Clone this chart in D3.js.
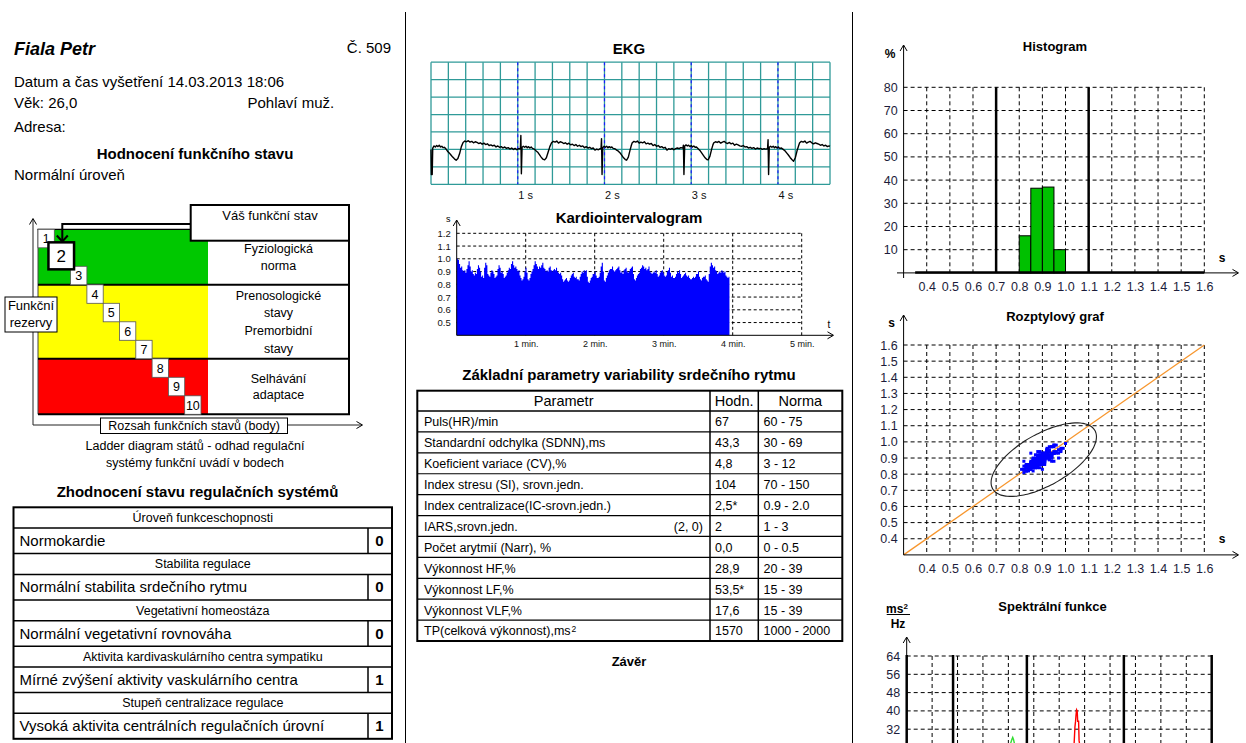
<!DOCTYPE html>
<html>
<head>
<meta charset="utf-8">
<script src="https://cdn.jsdelivr.net/npm/d3@7"></script>
<style>
  html, body { margin: 0; padding: 0; background: #fff; overflow: hidden; }
  svg { display: block; font-family: "Liberation Sans", Arial, sans-serif; }
</style>
</head>
<body>
<svg id="report" width="1246" height="743"></svg>
<script>
// ---------- patient header ----------
const patientName = "Fiala Petr";
const recordNo = "Č. 509";
const examDate = "Datum a čas vyšetření 14.03.2013 18:06";
const ageText = "Věk: 26,0";
const sexText = "Pohlaví muž.";
const addressText = "Adresa:";
const stateSummary = "Normální úroveň";

// ---------- ladder diagram ----------
const ladderSteps = [1, 2, 3, 4, 5, 6, 7, 8, 9, 10];
const currentStep = 2;
const zoneRanges = [[1, 3], [4, 7], [8, 10]];
const zoneLabels = [
  ["Fyziologická", "norma"],
  ["Prenosologické", "stavy", "Premorbidní", "stavy"],
  ["Selhávání", "adaptace"]
];

// ---------- regulation summary ----------
const regSections = ["Úroveň funkceschopnosti", "Stabilita regulace", "Vegetativní homeostáza",
  "Aktivita kardivaskulárního centra sympatiku", "Stupeň centralizace regulace"];
const regResults = ["Normokardie", "Normální stabilita srdečního rytmu", "Normální vegetativní rovnováha",
  "Mírné zvýšení aktivity vaskulárního centra", "Vysoká aktivita centrálních regulačních úrovní"];
const regScores = [0, 0, 0, 1, 1];

// ---------- HRV parameters ----------
const paramNames = ["Puls(HR)/min", "Standardní odchylka (SDNN),ms", "Koeficient variace (CV),%",
  "Index stresu (SI), srovn.jedn.", "Index centralizace(IC-srovn.jedn.)", "IARS,srovn.jedn.",
  "Počet arytmií (Narr), %", "Výkonnost HF,%", "Výkonnost LF,%", "Výkonnost VLF,%", "TP(celková výkonnost),ms"];
const paramNotes = ["", "", "", "", "", "(2, 0)", "", "", "", "", ""];
const paramValues = ["67", "43,3", "4,8", "104", "2,5*", "2", "0,0", "28,9", "53,5*", "17,6", "1570"];
const paramNorms = ["60 - 75", "30 - 69", "3 - 12", "70 - 150", "0.9 - 2.0", "1 - 3", "0 - 0.5",
  "20 - 39", "15 - 39", "15 - 39", "1000 - 2000"];

// ---------- ECG strip: [time s, mV] ----------
const ekgTrace = [
  // beat 1
  [0.000,0.00],[0.004,-0.72],[0.014,-0.72],[0.020,0.04],[0.035,0.10],[0.050,0.07],[0.065,0.11],[0.080,0.08],
  [0.095,0.12],[0.110,0.07],[0.125,0.09],[0.140,0.05],[0.155,0.06],[0.170,0.02],[0.190,-0.05],[0.210,-0.10],
  [0.230,-0.16],[0.250,-0.22],[0.270,-0.27],[0.290,-0.31],[0.310,-0.26],[0.330,-0.12],[0.350,0.08],
  [0.37,0.20],[0.39,0.24],[0.41,0.22],[0.43,0.25],[0.45,0.21],[0.47,0.23],[0.49,0.19],[0.51,0.22],[0.53,0.20],
  [0.55,0.17],[0.57,0.19],[0.59,0.15],[0.61,0.18],[0.63,0.14],[0.65,0.16],[0.67,0.11],[0.69,0.13],[0.71,0.10],
  [0.73,0.12],[0.75,0.07],[0.77,0.10],[0.79,0.06],[0.81,0.08],[0.83,0.04],[0.85,0.07],[0.87,0.03],[0.89,0.05],
  [0.91,0.01],[0.93,0.04],[0.95,0.00],[0.97,0.03],[0.99,-0.01],[1.01,0.02],
  // beat 2
  [1.030,0.02],[1.036,0.40],[1.042,-0.70],[1.050,0.06],[1.065,0.09],[1.080,0.06],[1.095,0.09],[1.110,0.05],
  [1.125,0.08],[1.140,0.04],[1.155,0.07],[1.170,0.03],[1.190,0.01],[1.210,-0.04],[1.230,-0.08],[1.250,-0.15],
  [1.270,-0.22],[1.290,-0.28],[1.310,-0.30],[1.330,-0.24],[1.350,-0.08],[1.370,0.08],
  [1.39,0.19],[1.41,0.23],[1.43,0.21],[1.45,0.24],[1.47,0.18],[1.49,0.22],[1.51,0.20],[1.53,0.17],[1.55,0.19],
  [1.57,0.15],[1.59,0.18],[1.61,0.13],[1.63,0.15],[1.65,0.11],[1.67,0.14],[1.69,0.09],[1.71,0.12],[1.73,0.08],
  [1.75,0.10],[1.77,0.05],[1.79,0.08],[1.81,0.04],[1.83,0.06],[1.85,0.02],[1.87,0.04],[1.89,-0.02],[1.91,0.01],
  [1.93,-0.01],[1.95,0.02],
  // beat 3
  [1.960,0.02],[1.966,0.31],[1.972,-0.72],[1.980,0.05],[1.995,0.09],[2.010,0.06],[2.025,0.09],[2.040,0.05],
  [2.055,0.08],[2.070,0.05],[2.085,0.07],[2.100,0.03],[2.120,0.02],[2.140,-0.02],[2.160,-0.05],[2.180,-0.10],
  [2.200,-0.17],[2.220,-0.24],[2.240,-0.29],[2.255,-0.31],[2.275,-0.22],[2.295,-0.02],[2.310,0.12],
  [2.32,0.19],[2.34,0.23],[2.36,0.21],[2.38,0.24],[2.40,0.18],[2.42,0.21],[2.44,0.19],[2.46,0.22],[2.48,0.16],
  [2.50,0.18],[2.52,0.15],[2.54,0.17],[2.56,0.11],[2.58,0.14],[2.60,0.09],[2.62,0.11],[2.64,0.06],[2.66,0.08],
  [2.68,0.04],[2.70,0.06],[2.72,-0.02],[2.74,0.02],[2.76,0.00],[2.78,0.03],[2.80,-0.01],[2.82,0.02],[2.84,0.04],
  [2.86,0.02],[2.88,0.05],[2.90,0.04],
  // beat 4
  [2.905,0.05],[2.910,0.12],[2.916,-0.72],[2.925,0.10],[2.940,0.13],[2.955,0.10],[2.970,0.12],[2.985,0.08],
  [3.000,0.11],[3.015,0.07],[3.030,0.10],[3.045,0.06],[3.060,0.07],[3.080,0.02],[3.100,-0.03],[3.120,-0.10],
  [3.140,-0.17],[3.160,-0.24],[3.180,-0.29],[3.195,-0.30],[3.215,-0.20],[3.235,0.00],[3.250,0.13],
  [3.26,0.19],[3.28,0.22],[3.30,0.20],[3.32,0.23],[3.34,0.18],[3.36,0.21],[3.38,0.23],[3.40,0.19],[3.42,0.17],
  [3.44,0.20],[3.46,0.16],[3.48,0.18],[3.50,0.12],[3.52,0.15],[3.54,0.13],[3.56,0.10],[3.58,0.09],[3.60,0.11],
  [3.62,0.07],[3.64,0.08],[3.66,0.04],[3.68,0.06],[3.70,0.03],[3.72,0.05],[3.74,0.01],[3.76,0.04],[3.78,0.02],
  [3.80,0.03],[3.82,0.00],[3.84,0.02],[3.86,0.01],[3.875,0.02],
  // beat 5
  [3.880,0.02],[3.886,0.28],[3.892,-0.72],[3.900,0.06],[3.915,0.09],[3.930,0.06],[3.945,0.09],[3.960,0.05],
  [3.975,0.08],[3.990,0.04],[4.005,0.07],[4.020,0.03],[4.040,0.04],[4.060,0.00],[4.080,-0.04],[4.100,-0.10],
  [4.120,-0.16],[4.140,-0.23],[4.160,-0.29],[4.180,-0.34],[4.200,-0.24],[4.220,-0.04],[4.240,0.12],
  [4.25,0.19],[4.27,0.23],[4.29,0.21],[4.31,0.24],[4.33,0.18],[4.35,0.21],[4.37,0.23],[4.39,0.19],[4.41,0.16],
  [4.43,0.19],[4.45,0.17],[4.47,0.15],[4.49,0.12],[4.51,0.14],[4.53,0.10],[4.55,0.12],[4.57,0.08],[4.59,0.10],
  [4.60,0.09]
];
const ekgSecondMarks = [1, 2, 3, 4];

// ---------- RR intervals (s), beat by beat ----------
const rrIntervals = [
  1.00,0.99,0.96, 0.93,0.94,0.91, 0.90,0.91,0.89,0.92, 0.95,0.98,0.94, 0.90,0.91,0.88, 0.87,0.89,0.88,
  0.92,0.95,0.93,0.90, 0.86,0.87,0.85, 0.93,0.97,0.95, 0.88,0.87,0.86, 0.89,0.91,0.90,0.88, 0.85,0.86,0.87,
  0.92,0.95,0.93, 0.89,0.90,0.88, 0.85,0.86,0.87,0.89, 0.91,0.93,0.92, 0.96,0.98,0.95, 0.93,0.94,0.92,
  0.90,0.91,0.87,0.85, 0.83,0.84,0.86, 0.90,0.93,0.89, 0.84,0.83,0.85, 0.88,0.90,0.92,0.95, 0.98,0.96,0.94,
  0.92,0.94,0.93, 0.95,0.97,0.93,0.92, 0.90,0.91,0.90, 0.93,0.94,0.91, 0.90,0.91,0.92, 0.91,0.93,0.90,0.89,
  0.88,0.89,0.87, 0.84,0.82,0.83, 0.84,0.85,0.83, 0.82,0.83,0.85,0.87, 0.88,0.89,0.86, 0.85,0.86,0.84,
  0.84,0.83,0.86, 0.88,0.90,0.89,0.91, 0.90,0.91,0.86, 0.82,0.81,0.83, 0.85,0.86,0.88, 0.88,0.90,0.87,0.85,
  0.85,0.86,0.89, 0.94,0.97,0.90, 0.83,0.82,0.85, 0.87,0.89,0.91,0.92, 0.92,0.94,0.91, 0.90,0.91,0.92,
  0.93,0.94,0.91, 0.89,0.90,0.88,0.91, 0.92,0.93,0.90, 0.89,0.90,0.92, 0.93,0.94,0.88, 0.84,0.83,0.85,0.87,
  0.88,0.89,0.92, 0.93,0.95,0.94, 0.92,0.93,0.91, 0.92,0.94,0.90,0.89, 0.88,0.89,0.90, 0.89,0.91,0.88,
  0.86,0.87,0.89, 0.90,0.91,0.89,0.87, 0.86,0.87,0.90, 0.91,0.93,0.89, 0.86,0.87,0.85, 0.85,0.86,0.88,0.90,
  0.89,0.91,0.88, 0.85,0.86,0.87, 0.88,0.89,0.87, 0.86,0.87,0.85,0.84, 0.84,0.85,0.86, 0.85,0.86,0.88,
  0.88,0.90,0.86, 0.84,0.83,0.85,0.86, 0.86,0.87,0.84, 0.83,0.82,0.88, 0.94,0.97,0.95, 0.93,0.94,0.91,0.90,
  0.88,0.89,0.90, 0.89,0.91,0.90, 0.89,0.90,0.87, 0.86,0.85,0.86
];

// ---------- histogram of RR intervals ----------
const histBinStarts = [0.80, 0.85, 0.90, 0.95];
const histPercent = [16, 36.5, 37, 10];
const histBinWidth = 0.05;
const histLimits = [0.7, 1.1];

// ---------- scatter ellipse (centre, semi-axes along / across identity) ----------
const ellipseCentre = [0.906, 0.89];
const ellipseAxes = [0.29, 0.14];

// ---------- spectral function ----------
const specBandEdges = [0, 0.076, 0.197, 0.356, 0.5];
const specBands = [
  [[0.000,4],[0.010,9],[0.020,14],[0.030,17],[0.040,19],[0.050,16],[0.060,12],[0.070,9],[0.076,8]],
  [[0.076,8],[0.090,10],[0.110,12],[0.130,14],[0.150,17],[0.160,20],[0.166,23],[0.170,25.5],[0.1725,27.6],
   [0.1738,28.4],[0.1752,27.4],[0.178,24],[0.184,19],[0.197,13]],
  [[0.197,13],[0.215,11],[0.235,12],[0.250,15],[0.262,19],[0.270,23],[0.2745,26],[0.2758,33],[0.2768,35.4],
   [0.2775,38],[0.2785,40.5],[0.2795,40],[0.2803,35.5],[0.2818,35.5],[0.2826,27],[0.286,21],[0.295,15],
   [0.310,10],[0.330,7],[0.356,5]],
  [[0.356,5],[0.400,3],[0.450,2],[0.500,1]]
];
const specTicks = [32, 40, 48, 56, 64];

// =====================================================================
const FONT = '"Liberation Sans", Arial, sans-serif';
const svg = d3.select("#report");
const root = svg.append("g");

function txt(g, x, y, s, o = {}) {
  return g.append("text")
    .attr("x", x).attr("y", y).attr("dy", "0.35em")
    .attr("font-size", o.size || 15)
    .attr("font-weight", o.bold ? "bold" : null)
    .attr("font-style", o.italic ? "italic" : null)
    .attr("text-anchor", o.anchor || "start")
    .attr("fill", o.fill || "#000")
    .text(s);
}
function line(g, x1, y1, x2, y2, o = {}) {
  return g.append("line").attr("x1", x1).attr("y1", y1).attr("x2", x2).attr("y2", y2)
    .attr("stroke", o.stroke || "#000").attr("stroke-width", o.w || 1)
    .attr("stroke-dasharray", o.dash || null);
}
function arrowUp(g, x, y, w = 1) {
  g.append("polyline").attr("points", `${x - 3.5},${y + 6} ${x},${y} ${x + 3.5},${y + 6}`)
    .attr("fill", "none").attr("stroke", "#000").attr("stroke-width", w);
}
function arrowRight(g, x, y, w = 1) {
  g.append("polyline").attr("points", `${x - 6},${y - 3.5} ${x},${y} ${x - 6},${y + 3.5}`)
    .attr("fill", "none").attr("stroke", "#000").attr("stroke-width", w);
}
function styleAxis(sel, size, color) {
  sel.attr("font-family", FONT).attr("font-size", size);
  sel.select(".domain").remove();
  sel.selectAll(".tick line").remove();
  sel.selectAll(".tick text").attr("fill", color);
}

// column separators
line(root, 405.5, 12, 405.5, 743);
line(root, 852.5, 12, 852.5, 743);

// ===================== LEFT COLUMN =====================
const left = root.append("g");
txt(left, 14, 49, patientName, { size: 18, bold: true, italic: true });
txt(left, 391, 48, recordNo, { size: 15, anchor: "end" });
txt(left, 14, 82, examDate, { size: 15 });
txt(left, 14, 102.5, ageText, { size: 15 });
txt(left, 247.5, 102.5, sexText, { size: 15 });
txt(left, 14, 126.5, addressText, { size: 15 });
txt(left, 195, 153.3, "Hodnocení funkčního stavu", { size: 15, bold: true, anchor: "middle" });
txt(left, 14, 174.3, stateSummary, { size: 15 });

// ladder diagram
const lad = left.append("g");
const lx = d3.scaleLinear().domain([1, 11]).range([38, 201]);
const ly = d3.scaleLinear().domain([1, 11]).range([229.3, 414.3]);
const zoneColors = ["#00c800", "#ffff00", "#ff0000"];
const ladRight = 349, colorRight = 208;

line(lad, 33, 425, 33, 219, { stroke: "#222" });
arrowUp(lad, 33, 218.5);
line(lad, 33, 425, 362, 425, { stroke: "#222" });
arrowRight(lad, 362.5, 425);

zoneRanges.forEach((z, i) => {
  lad.append("rect").attr("x", lx(1)).attr("y", ly(z[0]))
    .attr("width", colorRight - lx(1)).attr("height", ly(z[1] + 1) - ly(z[0]))
    .attr("fill", zoneColors[i]);
  lad.append("rect").attr("x", colorRight).attr("y", ly(z[0]))
    .attr("width", ladRight - colorRight).attr("height", ly(z[1] + 1) - ly(z[0]))
    .attr("fill", "#fff");
  const labels = zoneLabels[i];
  const cy = (ly(z[0]) + ly(z[1] + 1)) / 2;
  const gap = labels.length > 2 ? 17.6 : 16.8;
  labels.forEach((s, j) => txt(lad, (colorRight + ladRight) / 2, cy + (j - (labels.length - 1) / 2) * gap, s,
    { size: 12.5, anchor: "middle" }));
});
line(lad, lx(1) - 0.5, ly(1), 191, ly(1), { w: 1.2 });
line(lad, lx(1), ly(1), lx(1), ly(11), { stroke: "#444", w: 1 });
[4, 8].forEach(k => line(lad, lx(1), ly(k), ladRight + 1, ly(k), { w: 2 }));
line(lad, lx(1), ly(11), ladRight + 1, ly(11), { w: 2 });
line(lad, ladRight, 240.7, ladRight, ly(11), { w: 2 });

ladderSteps.forEach(k => {
  if (k === currentStep) return;
  lad.append("rect").attr("x", lx(k)).attr("y", ly(k))
    .attr("width", lx(k + 1) - lx(k)).attr("height", ly(k + 1) - ly(k))
    .attr("fill", "#fff").attr("stroke", "#555").attr("stroke-width", 0.8);
  txt(lad, (lx(k) + lx(k + 1)) / 2, (ly(k) + ly(k + 1)) / 2 + 0.5, String(k),
    { size: k === 1 ? 12 : 12.5, anchor: "middle" });
});
{
  const cx = (lx(currentStep) + lx(currentStep + 1)) / 2 - 1.2;
  const cy = (ly(currentStep) + ly(currentStep + 1)) / 2 - 1.2;
  lad.append("rect").attr("x", cx - 12.8).attr("y", cy - 13.5).attr("width", 25.6).attr("height", 27)
    .attr("fill", "#fff").attr("stroke", "#000").attr("stroke-width", 2.5);
  txt(lad, cx, cy + 0.5, String(currentStep), { size: 17, anchor: "middle" });
}

lad.append("rect").attr("x", 190.7).attr("y", 205).attr("width", 158.3).attr("height", 35.7)
  .attr("fill", "#fff").attr("stroke", "#000").attr("stroke-width", 2);
txt(lad, 270, 215.5, "Váš funkční stav", { size: 13, anchor: "middle" });
lad.append("path").attr("d", `M190.7,224 H62.3 V241`).attr("fill", "none")
  .attr("stroke", "#000").attr("stroke-width", 2);
lad.append("polyline").attr("points", "56.8,235.5 62.3,241.5 67.8,235.5")
  .attr("fill", "none").attr("stroke", "#000").attr("stroke-width", 2);

lad.append("rect").attr("x", 5).attr("y", 297).attr("width", 52).attr("height", 35)
  .attr("fill", "#fff").attr("stroke", "#000").attr("stroke-width", 1);
txt(lad, 31, 305.5, "Funkční", { size: 13, anchor: "middle" });
txt(lad, 31, 322.5, "rezervy", { size: 13, anchor: "middle" });
lad.append("rect").attr("x", 100.5).attr("y", 418).attr("width", 187).attr("height", 15.5)
  .attr("fill", "#fff").attr("stroke", "#000").attr("stroke-width", 1);
txt(lad, 194, 425.8, "Rozsah funkčních stavů (body)", { size: 12.5, anchor: "middle" });
txt(lad, 195, 446, "Ladder diagram států - odhad regulační", { size: 12.5, anchor: "middle" });
txt(lad, 195, 462.5, "systémy funkční uvádí v bodech", { size: 12.5, anchor: "middle" });

// regulation summary table
txt(left, 197.5, 491.5, "Zhodnocení stavu regulačních systémů", { size: 15, bold: true, anchor: "middle" });
const reg = left.append("g");
const regTop = 507.3, regHdrH = 20.8, regValH = 25.5, regL = 13.5, regR = 392, regScoreX = 368;
regSections.forEach((sec, i) => {
  const y0 = regTop + i * (regHdrH + regValH);
  txt(reg, (regL + regR) / 2, y0 + regHdrH / 2, sec, { size: 12.5, anchor: "middle" });
  line(reg, regL, y0 + regHdrH, regR, y0 + regHdrH, { w: 1.5 });
  txt(reg, 19.5, y0 + regHdrH + regValH / 2, regResults[i], { size: 15 });
  txt(reg, 379.5, y0 + regHdrH + regValH / 2, String(regScores[i]), { size: 15, bold: true, anchor: "middle" });
  line(reg, regScoreX, y0 + regHdrH, regScoreX, y0 + regHdrH + regValH, { w: 1.5 });
  if (i < regSections.length - 1) line(reg, regL, y0 + regHdrH + regValH, regR, y0 + regHdrH + regValH, { w: 1.5 });
});
reg.append("rect").attr("x", regL).attr("y", regTop).attr("width", regR - regL)
  .attr("height", regSections.length * (regHdrH + regValH))
  .attr("fill", "none").attr("stroke", "#000").attr("stroke-width", 2);

// ===================== MIDDLE COLUMN =====================
const mid = root.append("g");

// ECG
txt(mid, 629, 48.3, "EKG", { size: 15, bold: true, anchor: "middle" });
const ekgX = d3.scaleLinear().domain([0, 4.6]).range([431, 830]);
const ekgY = d3.scaleLinear().domain([-1, 2.5]).range([184.3, 62.2]);
const ekgGrid = mid.append("g");
d3.range(0, 24).forEach(i => {
  const x = ekgX(i * 0.2);
  line(ekgGrid, x, ekgY(2.5), x, ekgY(-1), { stroke: "#2f9a98", w: 1.3 });
});
d3.range(0, 8).forEach(i => {
  const y = ekgY(-1 + i * 0.5);
  line(ekgGrid, ekgX(0), y, ekgX(4.6), y, { stroke: "#2f9a98", w: 1.3 });
});
ekgSecondMarks.forEach(s => line(ekgGrid, ekgX(s), ekgY(2.5), ekgX(s), ekgY(-1), { stroke: "#1a1aff", w: 1.2, dash: "3,3" }));
mid.append("path").datum(ekgTrace)
  .attr("d", d3.line().x(d => ekgX(d[0])).y(d => ekgY(d[1])))
  .attr("fill", "none").attr("stroke", "#000").attr("stroke-width", 1.4).attr("stroke-linejoin", "round");
const ekgAxis = mid.append("g").attr("transform", `translate(0,${ekgY(-1)})`)
  .call(d3.axisBottom(ekgX).tickValues(ekgSecondMarks).tickFormat(d => d + " s").tickSize(0).tickPadding(7));
styleAxis(ekgAxis, 11, "#111");
ekgAxis.selectAll(".tick text").attr("text-anchor", "start").attr("x", 0);

// cardio-intervalogram
txt(mid, 629, 218, "Kardiointervalogram", { size: 15, bold: true, anchor: "middle" });
const kiX = d3.scaleLinear().domain([0, 5]).range([456.7, 801.7]);
const kiY = d3.scaleLinear().domain([0.4, 1.2]).range([335.3, 233.3]);
const ki = mid.append("g");
d3.range(5, 13).forEach(v => line(ki, kiX(0), kiY(v / 10), kiX(5), kiY(v / 10), { dash: "3,2.5" }));
d3.range(1, 6).forEach(m => line(ki, kiX(m), kiY(1.2), kiX(m), kiY(0.4), { dash: "3,2.5" }));
const beatStarts = [];
rrIntervals.reduce((acc, rr) => { beatStarts.push(acc); return acc + rr; }, 0);
const totalSec = d3.sum(rrIntervals);
const kiPoints = rrIntervals.map((rr, i) => [beatStarts[i] / 60, rr]);
kiPoints.push([totalSec / 60, rrIntervals[rrIntervals.length - 1]]);
ki.append("path").datum(kiPoints)
  .attr("d", d3.area().curve(d3.curveStepAfter).x(d => kiX(d[0])).y0(kiY(0.4)).y1(d => kiY(d[1])))
  .attr("fill", "#0000ff");
line(ki, kiX(0), kiY(0.4), kiX(0), 220.5);
arrowUp(ki, kiX(0), 220);
line(ki, kiX(0), kiY(0.4), 833, kiY(0.4));
arrowRight(ki, 833.5, kiY(0.4));
txt(ki, 446, 218.5, "s", { size: 9 });
txt(ki, 827.5, 324, "t", { size: 10 });
const kiYAxis = ki.append("g").attr("transform", `translate(${kiX(0)},0)`)
  .call(d3.axisLeft(kiY).tickValues(d3.range(5, 13).map(v => v / 10)).tickFormat(d3.format(".1f")).tickSize(0).tickPadding(6));
styleAxis(kiYAxis, 9.5, "#111");
const kiXAxis = ki.append("g").attr("transform", `translate(0,${kiY(0.4)})`)
  .call(d3.axisBottom(kiX).tickValues([1, 2, 3, 4, 5]).tickFormat(d => d + " min.").tickSize(0).tickPadding(5));
styleAxis(kiXAxis, 9, "#111");

// parameter table
txt(mid, 629, 375, "Základní parametry variability srdečního rytmu", { size: 15, bold: true, anchor: "middle" });
const tb = mid.append("g");
const tL = 417.3, tR = 842.3, tTop = 390.7, tHdr = 20.3, tRow = 20.91, c1 = 710, c2 = 758.3;
const tBottom = tTop + tHdr + paramNames.length * tRow;
txt(tb, (tL + c1) / 2, tTop + tHdr / 2 + 0.5, "Parametr", { size: 14.5, anchor: "middle" });
txt(tb, (c1 + c2) / 2, tTop + tHdr / 2 + 0.5, "Hodn.", { size: 14.5, anchor: "middle" });
txt(tb, (c2 + tR) / 2, tTop + tHdr / 2 + 0.5, "Norma", { size: 14.5, anchor: "middle" });
line(tb, tL, tTop + tHdr, tR, tTop + tHdr, { w: 1.5 });
paramNames.forEach((name, i) => {
  const cy = tTop + tHdr + i * tRow + tRow / 2 + 0.5;
  const t = txt(tb, 424, cy, name, { size: 12.5 });
  if (i === paramNames.length - 1) {
    t.append("tspan").attr("font-size", 8.5).attr("dy", "-0.45em").attr("dx", 1).text("2");
  }
  if (paramNotes[i]) txt(tb, 703, cy, paramNotes[i], { size: 12.5, anchor: "end" });
  txt(tb, 715, cy, paramValues[i], { size: 12.5 });
  txt(tb, 763.5, cy, paramNorms[i], { size: 12.5 });
  if (i > 0) line(tb, tL, tTop + tHdr + i * tRow, tR, tTop + tHdr + i * tRow, { w: 1.2 });
});
line(tb, c1, tTop, c1, tBottom, { w: 1.5 });
line(tb, c2, tTop, c2, tBottom, { w: 1.5 });
tb.append("rect").attr("x", tL).attr("y", tTop).attr("width", tR - tL).attr("height", tBottom - tTop)
  .attr("fill", "none").attr("stroke", "#000").attr("stroke-width", 2);
txt(mid, 629, 661.7, "Závěr", { size: 13, bold: true, anchor: "middle" });

// ===================== RIGHT COLUMN =====================
const right = root.append("g");
const tickColor = "#1c1c3a";
const dash = "4,3";

// histogram
txt(right, 1055, 46.7, "Histogram", { size: 13, bold: true, anchor: "middle" });
const hX = d3.scaleLinear().domain([0.3, 1.6]).range([903.6, 1204.3]);
const hY = d3.scaleLinear().domain([0, 80]).range([272.9, 87.3]);
const hg = right.append("g");
const sTicks = d3.range(4, 17).map(v => v / 10);
d3.range(1, 9).forEach(v => line(hg, hX(0.3), hY(v * 10), hX(1.6), hY(v * 10), { dash }));
sTicks.forEach(v => line(hg, hX(v), hY(80), hX(v), hY(0), { dash }));
histLimits.forEach(v => line(hg, hX(v), hY(80), hX(v), hY(0), { w: 2.5 }));
hg.selectAll("rect.bin").data(histBinStarts).join("rect").attr("class", "bin")
  .attr("x", d => hX(d)).attr("width", d => hX(d + histBinWidth) - hX(d))
  .attr("y", (d, i) => hY(histPercent[i])).attr("height", (d, i) => hY(0) - hY(histPercent[i]))
  .attr("fill", "#00c000").attr("stroke", "#000").attr("stroke-width", 1);
line(hg, hX(0.35), hY(0) - 0.5, hX(1.6), hY(0) - 0.5, { w: 2.5 });
line(hg, hX(0.3), 278, hX(0.3), 45.5);
arrowUp(hg, hX(0.3), 45);
line(hg, 897, hY(0), 1238, hY(0));
arrowRight(hg, 1238.5, hY(0));
txt(hg, 890, 54, "%", { size: 12, bold: true, anchor: "middle" });
txt(hg, 1222, 258, "s", { size: 12, bold: true, anchor: "middle" });
const hYAxis = hg.append("g").attr("transform", `translate(${hX(0.3)},0)`)
  .call(d3.axisLeft(hY).tickValues(d3.range(1, 9).map(v => v * 10)).tickSize(0).tickPadding(6));
styleAxis(hYAxis, 12.5, tickColor);
const hXAxis = hg.append("g").attr("transform", `translate(0,${hY(0)})`)
  .call(d3.axisBottom(hX).tickValues(sTicks).tickFormat(d3.format(".1f")).tickSize(0).tickPadding(9.5));
styleAxis(hXAxis, 12.5, tickColor);

// Poincaré scatter
txt(right, 1055, 316, "Rozptylový graf", { size: 13, bold: true, anchor: "middle" });
const sX = d3.scaleLinear().domain([0.3, 1.6]).range([903.6, 1204.3]);
const sY = d3.scaleLinear().domain([0.3, 1.6]).range([554.9, 345]);
const sg = right.append("g");
sTicks.forEach(v => line(sg, sX(0.3), sY(v), sX(1.6), sY(v), { dash }));
sTicks.forEach(v => line(sg, sX(v), sY(1.6), sX(v), sY(0.3), { dash }));
line(sg, sX(0.3), sY(0.3), sX(1.6), sY(1.6), { stroke: "#f7962d", w: 1.3 });
const ellipsePts = d3.range(0, 361, 4).map(deg => {
  const a = deg * Math.PI / 180;
  const u = ellipseAxes[0] * Math.cos(a), w = ellipseAxes[1] * Math.sin(a);
  return [ellipseCentre[0] + (u - w) / Math.SQRT2, ellipseCentre[1] + (u + w) / Math.SQRT2];
});
sg.append("path").datum(ellipsePts)
  .attr("d", d3.line().curve(d3.curveCardinalClosed).x(d => sX(d[0])).y(d => sY(d[1])))
  .attr("fill", "none").attr("stroke", "#222").attr("stroke-width", 1.1);
const rrPairs = d3.pairs(rrIntervals);
sg.selectAll("rect.pt").data(rrPairs).join("rect").attr("class", "pt")
  .attr("x", d => sX(d[0]) - 1.5).attr("y", d => sY(d[1]) - 1.5)
  .attr("width", 3).attr("height", 3).attr("fill", "#0000ff");
line(sg, sX(0.3), sY(0.3), sX(0.3), 315.5);
arrowUp(sg, sX(0.3), 315);
line(sg, sX(0.3), sY(0.3), 1238, sY(0.3));
arrowRight(sg, 1238.5, sY(0.3));
txt(sg, 891.5, 323, "s", { size: 12, bold: true, anchor: "middle" });
txt(sg, 1222, 539, "s", { size: 12, bold: true, anchor: "middle" });
const sYAxis = sg.append("g").attr("transform", `translate(${sX(0.3)},0)`)
  .call(d3.axisLeft(sY).tickValues(sTicks).tickFormat(d3.format(".1f")).tickSize(0).tickPadding(6));
styleAxis(sYAxis, 12.5, tickColor);
const sXAxis = sg.append("g").attr("transform", `translate(0,${sY(0.3)})`)
  .call(d3.axisBottom(sX).tickValues(sTicks).tickFormat(d3.format(".1f")).tickSize(0).tickPadding(9.5));
styleAxis(sXAxis, 12.5, tickColor);

// spectral function
txt(right, 1052.5, 606.7, "Spektrální funkce", { size: 13, bold: true, anchor: "middle" });
const spX = d3.scaleLinear().domain([0, 0.5]).range([906.7, 1211.7]);
const spY = d3.scaleLinear().domain([0, 64]).range([802.4, 656]);
const spg = right.append("g");
d3.range(1, 9).forEach(v => line(spg, spX(0), spY(v * 8), spX(0.5), spY(v * 8), { dash }));
d3.range(1, 12).forEach(i => line(spg, spX(i * 0.5 / 12), spY(64), spX(i * 0.5 / 12), spY(0), { dash }));
specBandEdges.forEach(f => line(spg, spX(f), spY(64) - 1, spX(f), spY(0), { w: 2.5 }));
const bandColors = ["#3333ff", "#33dd33", "#ff0000", "#cc00cc"];
specBands.forEach((band, i) => {
  spg.append("path").datum(band)
    .attr("d", d3.line().x(d => spX(d[0])).y(d => spY(d[1])))
    .attr("fill", "none").attr("stroke", bandColors[i]).attr("stroke-width", 1.4);
});
line(spg, spX(0), spY(64), spX(0), 637.5);
arrowUp(spg, spX(0), 637);
const spYAxis = spg.append("g").attr("transform", `translate(${spX(0)},0)`)
  .call(d3.axisLeft(spY).tickValues(specTicks).tickSize(0).tickPadding(6.5));
styleAxis(spYAxis, 12.5, tickColor);
const unit = txt(spg, 897, 608.3, "ms", { size: 12, bold: true, anchor: "middle" });
unit.append("tspan").attr("font-size", 8).attr("dy", "-0.5em").text("2");
line(spg, 886.7, 614.5, 910, 614.5, { w: 1 });
txt(spg, 898, 623.3, "Hz", { size: 12, bold: true, anchor: "middle" });
</script>
</body>
</html>
